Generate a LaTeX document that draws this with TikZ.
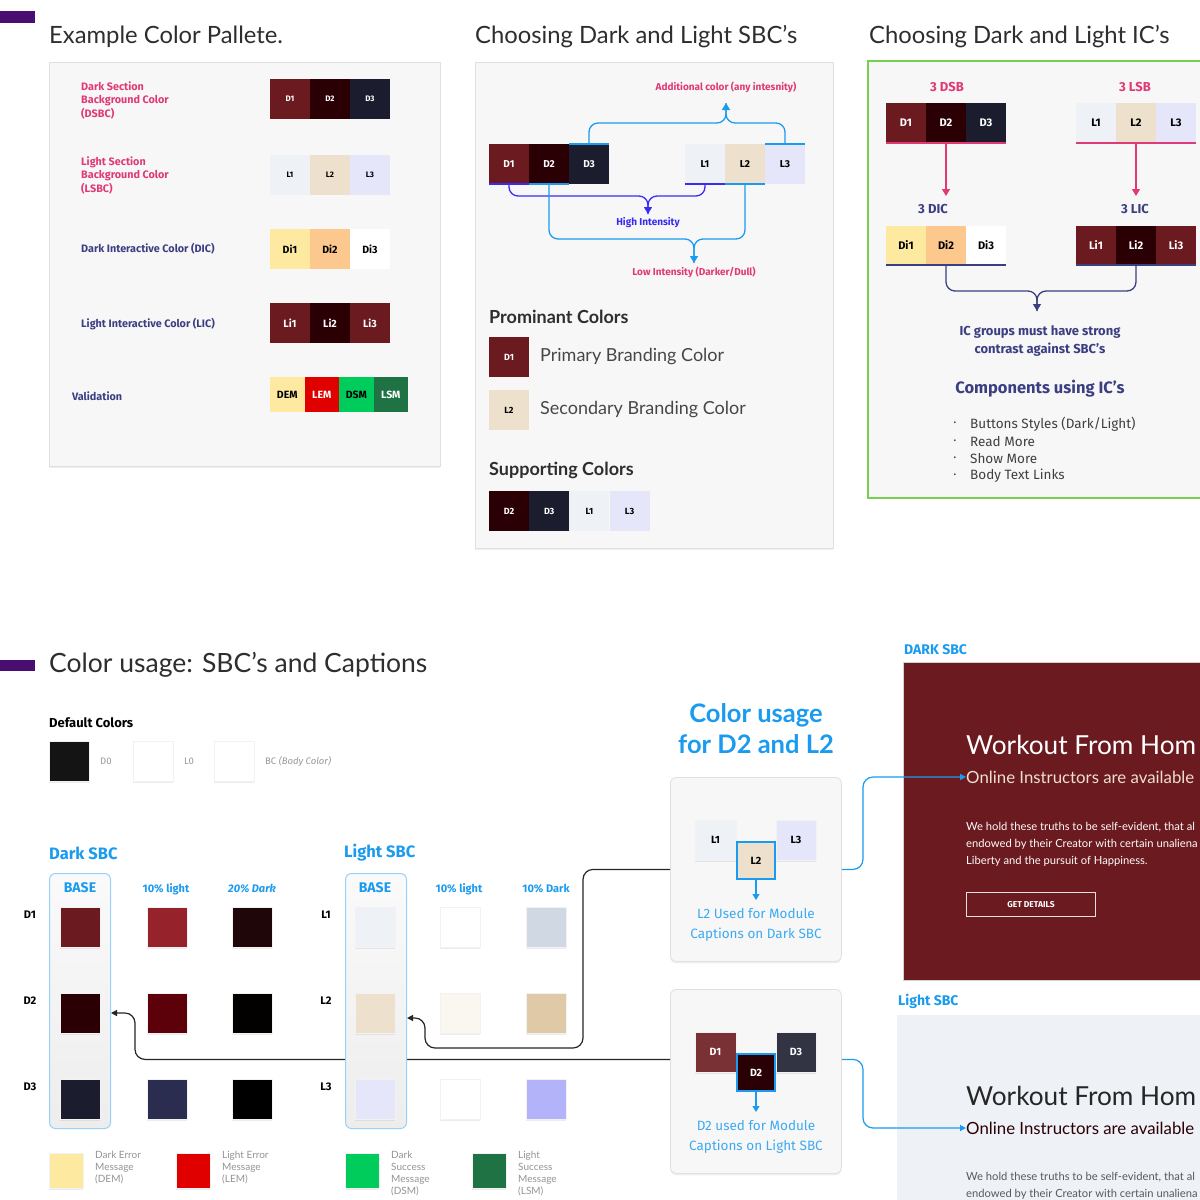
\documentclass[tikz,border=0pt]{standalone}
\usepackage{fontspec}
\setmainfont{Fira Sans}
\newfontfamily\headfont{Lato}
\usepackage{xcolor}
\usetikzlibrary{arrows.meta,positioning,shadows}

\definecolor{dOne}{HTML}{6B1A1F}
\definecolor{dTwo}{HTML}{2A0005}
\definecolor{dThree}{HTML}{1B1C2E}
\definecolor{dOneL}{HTML}{96222C}
\definecolor{dOneD}{HTML}{1F0608}
\definecolor{dTwoL}{HTML}{5C0009}
\definecolor{dTwoD}{HTML}{030000}
\definecolor{dThreeL}{HTML}{2A2D4F}
\definecolor{dThreeD}{HTML}{000000}
\definecolor{lOne}{HTML}{EEF1F6}
\definecolor{lTwo}{HTML}{EDE0CC}
\definecolor{lThree}{HTML}{E6E6FA}
\definecolor{lOneL}{HTML}{FFFFFF}
\definecolor{lOneD}{HTML}{CFD8E3}
\definecolor{lTwoL}{HTML}{FAF7F0}
\definecolor{lTwoD}{HTML}{E0C9A6}
\definecolor{lThreeL}{HTML}{FFFFFF}
\definecolor{lThreeD}{HTML}{B3B3FA}
\definecolor{diOne}{HTML}{FEE9A0}
\definecolor{diTwo}{HTML}{FDC88E}
\definecolor{lemc}{HTML}{E00000}
\definecolor{dsmc}{HTML}{00CC5C}
\definecolor{lsmc}{HTML}{1E7244}
\definecolor{pinkc}{HTML}{DF3A76}
\definecolor{navyc}{HTML}{3B3F82}
\definecolor{skyc}{HTML}{1A9BEF}
\definecolor{violetc}{HTML}{3A2BF0}
\definecolor{panelc}{HTML}{F8F7F7}
\definecolor{barc}{HTML}{4A0E72}
\definecolor{greenb}{HTML}{76CF4F}

\begin{document}
\begin{tikzpicture}[x=1pt, y=-1pt,
      sw/.style={anchor=north west, minimum width=40pt, minimum height=40pt, inner sep=0pt, outer sep=0pt, font=\bfseries\fontsize{9}{10}\selectfont},
      gsw/.style={minimum width=40pt, minimum height=40pt, inner sep=0pt, draw=black!5, line width=0.5pt, drop shadow={opacity=0.15, shadow xshift=0pt, shadow yshift=-1.5pt}},
      lab/.style={anchor=west, inner sep=0pt, align=left, font=\bfseries\fontsize{10.8}{13.5}\selectfont},
      txt/.style={inner sep=0pt, font=\bfseries\fontsize{10}{11}\selectfont},
      heading/.style={anchor=west, inner sep=0pt, text=black!82, font=\headfont\fontsize{23.8}{28}\selectfont},
      panel/.style={anchor=north west, fill=panelc, draw=black!12, line width=0.8pt, inner sep=0pt, drop shadow={opacity=0.12, shadow xshift=0pt, shadow yshift=-2pt}},
      capbox/.style={panel, rounded corners=6pt, minimum width=171pt, minimum height=184pt},
      basecol/.style={anchor=north west, rounded corners=6pt, draw=skyc!45, line width=1pt, top color=black!2, bottom color=black!7, minimum width=61pt, minimum height=255pt, inner sep=0pt},
      brace/.style={rounded corners=9pt, line width=1.3pt},
      arrowhd/.style={-{Triangle[length=7pt,width=8pt]}},
      link/.style={rounded corners=10pt, line width=1.2pt, -{Triangle[length=6pt,width=6pt]}},
    ]
      \useasboundingbox (0,0) rectangle (1200,1200);
      \clip (0,0) rectangle (1200,1200);
      \fill[white] (0,0) rectangle (1200,1200);

      \fill[barc] (0,11) rectangle (35,23);
      \node[heading] (palTitle) at (49,37) {Example Color Pallete.};
      \node[panel, minimum width=391pt, minimum height=404pt] (palPanel) at (49,62) {};
      \node[lab, text=pinkc] (dsbcLab) at (81,100) {Dark Section\\Background Color\\(DSBC)};
      \node[lab, text=pinkc] (lsbcLab) at (81,175) {Light Section\\Background Color\\(LSBC)};
      \node[lab, text=navyc] (dicLab) at (81,249) {Dark Interactive Color (DIC)};
      \node[lab, text=navyc] (licLab) at (81,324) {Light Interactive Color (LIC)};
      \node[lab, text=navyc] (valLab) at (72,396) {Validation};
      \foreach \c/\tc/\t [count=\i from 0] in {dOne/white/D1, dTwo/white/D2, dThree/white/D3}
        \node[sw, fill=\c, text=\tc, font=\bfseries\fontsize{8}{9}\selectfont] (pD\i) at (270+40*\i,79) {\t};
      \foreach \c/\tc/\t [count=\i from 0] in {lOne/black/L1, lTwo/black/L2, lThree/black/L3}
        \node[sw, fill=\c, text=\tc, font=\bfseries\fontsize{8}{9}\selectfont] (pL\i) at (270+40*\i,155) {\t};
      \foreach \c/\tc/\t [count=\i from 0] in {diOne/black/Di1, diTwo/black/Di2, white/black/Di3}
        \node[sw, fill=\c, text=\tc, font=\bfseries\fontsize{10.5}{11}\selectfont] (pDi\i) at (270+40*\i,229) {\t};
      \foreach \c/\tc/\t [count=\i from 0] in {dOne/white/Li1, dTwo/white/Li2, dOne/white/Li3}
        \node[sw, fill=\c, text=\tc, font=\bfseries\fontsize{10.5}{11}\selectfont] (pLi\i) at (270+40*\i,303) {\t};
      \foreach \c/\tc/\t [count=\i from 0] in {diOne/black/DEM, lemc/white/LEM, dsmc/black/DSM, lsmc/white/LSM}
        \node[sw, fill=\c, text=\tc, minimum width=34.5pt, minimum height=35pt, font=\bfseries\fontsize{10.5}{11}\selectfont] (pV\i) at (270+34.5*\i,377) {\t};

      \node[heading] (sbcTitle) at (475,37) {Choosing Dark and Light SBC’s};
      \node[panel, minimum width=358pt, minimum height=486pt] (sbcPanel) at (475,62) {};
      \foreach \c/\t [count=\i from 0] in {dOne/D1, dTwo/D2, dThree/D3}
        \node[sw, fill=\c, text=white, font=\bfseries\fontsize{10}{11}\selectfont] (qD\i) at (489+40*\i,144) {\t};
      \foreach \c/\t [count=\i from 0] in {lOne/L1, lTwo/L2, lThree/L3}
        \node[sw, fill=\c, text=black, font=\bfseries\fontsize{10}{11}\selectfont] (qL\i) at (685+40*\i,144) {\t};
      \draw[violetc, line width=2pt] (qD0.south west) -- (qD0.south east);
      \draw[skyc, line width=2pt] (qD1.south west) -- (qD1.south east);
      \draw[skyc, line width=2pt] (qD2.north west) -- (qD2.north east);
      \draw[violetc, line width=2pt] (qL0.south west) -- (qL0.south east);
      \draw[skyc, line width=2pt] (qL1.south west) -- (qL1.south east);
      \draw[skyc, line width=2pt] (qL2.north west) -- (qL2.north east);
      \coordinate (hiTip) at (648,214);
      \coordinate (loTip) at (694,263);
      \coordinate (adTip) at (726,103);
      \draw[brace, violetc] (qD0.south) |- (648,196) -- (hiTip);
      \draw[brace, violetc, arrowhd] (qL0.south) |- (648,196) -- (hiTip);
      \draw[brace, skyc] (qD1.south) |- (694,239) -- (loTip);
      \draw[brace, skyc, arrowhd] (qL1.south) |- (694,239) -- (loTip);
      \draw[brace, skyc] (qD2.north) |- (726,123) -- (adTip);
      \draw[brace, skyc, arrowhd] (qL2.north) |- (726,123) -- (adTip);
      \node[txt, text=pinkc] (adLab) at (726,87) {Additional color (any intesnity)};
      \node[txt, text=violetc] (hiLab) at (648,223) {High Intensity};
      \node[txt, text=pinkc] (loLab) at (694,272) {Low Intensity (Darker/Dull)};
      \node[anchor=west, inner sep=0pt, text=black!82, font=\headfont\bfseries\fontsize{18}{20}\selectfont] (promLab) at (489,317) {Prominant Colors};
      \node[sw, fill=dOne, text=white] (prD1) at (489,337) {D1};
      \node[inner sep=0pt, text=black!72, font=\headfont\fontsize{18}{20}\selectfont, right=11pt of prD1] (primLab) {Primary Branding Color};
      \node[sw, fill=lTwo, text=black] (prL2) at (489,390) {L2};
      \node[inner sep=0pt, text=black!72, font=\headfont\fontsize{18}{20}\selectfont, right=11pt of prL2] (secLab) {Secondary Branding Color};
      \node[anchor=west, inner sep=0pt, text=black!82, font=\headfont\bfseries\fontsize{18}{20}\selectfont] (suppLab) at (489,470) {Supporting Colors};
      \foreach \c/\tc/\t [count=\i from 0] in {dTwo/white/D2, dThree/white/D3, lOne/black/L1, lThree/black/L3}
        \node[sw, fill=\c, text=\tc] (supp\i) at (489+40.2*\i,491) {\t};

      \node[heading] (icTitle) at (869,37) {Choosing Dark and Light IC’s};
      \draw[greenb, line width=2.2pt, fill=panelc] (868,61) rectangle (1212,498);
      \node[txt, text=pinkc, font=\bfseries\fontsize{13}{14}\selectfont] (dsbHead) at (947,87) {3 DSB};
      \node[txt, text=pinkc, font=\bfseries\fontsize{13}{14}\selectfont] (lsbHead) at (1135,87) {3 LSB};
      \foreach \c/\t [count=\i from 0] in {dOne/D1, dTwo/D2, dThree/D3}
        \node[sw, fill=\c, text=white, font=\bfseries\fontsize{11}{12}\selectfont] (rD\i) at (886+40*\i,103) {\t};
      \foreach \c/\t [count=\i from 0] in {lOne/L1, lTwo/L2, lThree/L3}
        \node[sw, fill=\c, text=black, font=\bfseries\fontsize{11}{12}\selectfont] (rL\i) at (1076+40*\i,103) {\t};
      \draw[pinkc, line width=2.2pt] (rD0.south west) -- (rD2.south east);
      \draw[pinkc, line width=2.2pt] (rL0.south west) -- (rL2.south east);
      \draw[pinkc, line width=1.3pt, arrowhd] (rD1.south) -- ++(0,53);
      \draw[pinkc, line width=1.3pt, arrowhd] (rL1.south) -- ++(0,53);
      \node[txt, text=navyc, font=\bfseries\fontsize{13}{14}\selectfont] (dicHead) at (933,209) {3 DIC};
      \node[txt, text=navyc, font=\bfseries\fontsize{13}{14}\selectfont] (licHead) at (1135,209) {3 LIC};
      \foreach \c/\t [count=\i from 0] in {diOne/Di1, diTwo/Di2, white/Di3}
        \node[sw, fill=\c, text=black, minimum height=39pt, font=\bfseries\fontsize{11}{12}\selectfont] (iD\i) at (886+40*\i,226) {\t};
      \foreach \c/\t [count=\i from 0] in {dOne/Li1, dTwo/Li2, dOne/Li3}
        \node[sw, fill=\c, text=white, minimum height=39pt, font=\bfseries\fontsize{11}{12}\selectfont] (iL\i) at (1076+40*\i,226) {\t};
      \draw[navyc, line width=2.2pt] (iD0.south west) -- (iD2.south east);
      \draw[navyc, line width=2.2pt] (iL0.south west) -- (iL2.south east);
      \coordinate (icTip) at (1037,311);
      \draw[brace, navyc] (iD1.south) |- (1037,291) -- (icTip);
      \draw[brace, navyc, arrowhd] (iL1.south) |- (1037,291) -- (icTip);
      \node[txt, text=navyc, align=center, font=\bfseries\fontsize{13}{18}\selectfont] (icNote) at (1040,341) {IC groups must have strong\\contrast against SBC’s};
      \node[txt, text=navyc, font=\bfseries\fontsize{16.5}{18}\selectfont] (compLab) at (1040,389) {Components using IC’s};
      \foreach \t [count=\i from 0] in {Buttons Styles (Dark/Light), Read More, Show More, Body Text Links} {
        \node[inner sep=0pt, text=black!75, font=\fontsize{8}{9}\selectfont] (bul\i) at (955,424+17.2*\i) {\textbullet};
        \node[anchor=west, inner sep=0pt, text=black!75, font=\fontsize{13.5}{15}\selectfont] (item\i) at (970,424+17.2*\i) {\t};
      }

      \fill[barc] (0,660) rectangle (35,671);
      \node[heading, font=\headfont\fontsize{26.5}{30}\selectfont] (useTitle) at (49,665) {Color usage: SBC’s and Captions};
      \node[anchor=west, inner sep=0pt, font=\bfseries\fontsize{13}{14}\selectfont] (defLab) at (49,723) {Default Colors};
      \node[sw, gsw, anchor=north west, fill=black!92] (dfD0) at (49,741) {};
      \node[inner sep=0pt, text=black!40, font=\fontsize{9.5}{10}\selectfont, right=11pt of dfD0] (dfD0lab) {D0};
      \node[sw, gsw, anchor=north west, fill=white] (dfL0) at (133,741) {};
      \node[inner sep=0pt, text=black!40, font=\fontsize{9.5}{10}\selectfont, right=11pt of dfL0] (dfL0lab) {L0};
      \node[sw, gsw, anchor=north west, fill=white] (dfBC) at (214,741) {};
      \node[inner sep=0pt, text=black!40, font=\fontsize{9.5}{10}\selectfont, right=11pt of dfBC] (dfBClab) {BC \textit{(Body Color)}};

      \node[txt, text=skyc, align=center, font=\headfont\bfseries\fontsize{25.5}{31}\selectfont] (usageHead) at (756,729) {Color usage\\for D2 and L2};
      \node[capbox] (capA) at (670,777) {};
      \node[sw, gsw, anchor=north west, fill=lOne, minimum width=41pt, font=\bfseries\fontsize{10.5}{11}\selectfont] (cL1) at (695,820) {L1};
      \node[sw, gsw, anchor=north west, fill=lThree, font=\bfseries\fontsize{10.5}{11}\selectfont] (cL3) at (776,820) {L3};
      \node[sw, anchor=north west, fill=lTwo, draw=skyc, line width=2.5pt, minimum width=38pt, minimum height=37pt, font=\bfseries\fontsize{10.5}{11}\selectfont] (cL2) at (737,842) {L2};
      \draw[skyc, line width=1.2pt, -{Triangle[length=6pt,width=7pt]}] (cL2.south) -- ++(0,21);
      \node[inner sep=0pt, text=skyc!85, align=center, font=\fontsize{13.5}{20}\selectfont] (capAtxt) at (756,925) {L2 Used for Module\\Captions on Dark SBC};
      \node[capbox] (capB) at (670,989) {};
      \node[sw, gsw, anchor=north west, fill=dOne!90!white, text=white, minimum width=41pt, font=\bfseries\fontsize{10.5}{11}\selectfont] (cD1) at (695,1032) {D1};
      \node[sw, gsw, anchor=north west, fill=dThree!90!white, text=white, font=\bfseries\fontsize{10.5}{11}\selectfont] (cD3) at (776,1032) {D3};
      \node[sw, anchor=north west, fill=dTwo, text=white, draw=skyc, line width=2.5pt, minimum width=38pt, minimum height=37pt, font=\bfseries\fontsize{10.5}{11}\selectfont] (cD2) at (737,1054) {D2};
      \draw[skyc, line width=1.2pt, -{Triangle[length=6pt,width=7pt]}] (cD2.south) -- ++(0,21);
      \node[inner sep=0pt, text=skyc!85, align=center, font=\fontsize{13.5}{20}\selectfont] (capBtxt) at (756,1137) {D2 used for Module\\Captions on Light SBC};

      \node[anchor=west, inner sep=0pt, text=skyc, font=\bfseries\fontsize{14}{15}\selectfont] (darkHead) at (904,650) {DARK SBC};
      \draw[black!18, fill=dOne] (903,662) rectangle (1212,980);
      \node[anchor=west, inner sep=0pt, text=white, font=\headfont\fontsize{26.2}{30}\selectfont] (darkTitle) at (966,745) {Workout From Hom};
      \node[anchor=west, inner sep=0pt, text=lTwo, font=\headfont\fontsize{16.8}{18}\selectfont] (darkCap) at (966,777) {Online Instructors are available};
      \node[anchor=north west, inner sep=0pt, align=left, text=white!92!lTwo, font=\headfont\fontsize{11.2}{17}\selectfont] (darkBody) at (966,822) {We hold these truths to be self-evident, that al\\endowed by their Creator with certain unaliena\\Liberty and the pursuit of Happiness.};
      \node[anchor=north west, draw=white!85!dOne, line width=1pt, minimum width=129pt, minimum height=24pt, inner sep=0pt, text=white, font=\bfseries\fontsize{8.5}{9}\selectfont] (getBtn) at (966,892) {GET DETAILS};
      \node[anchor=west, inner sep=0pt, text=skyc, font=\bfseries\fontsize{14}{15}\selectfont] (lightHead) at (898,1001) {Light SBC};
      \fill[lOne] (897,1015) rectangle (1212,1212);
      \node[anchor=west, inner sep=0pt, text=black!85, font=\headfont\fontsize{26.2}{30}\selectfont] (lightTitle) at (966,1096) {Workout From Hom};
      \node[anchor=west, inner sep=0pt, text=dTwo, font=\headfont\fontsize{16.8}{18}\selectfont] (lightCap) at (966,1128) {Online Instructors are available};
      \node[anchor=north west, inner sep=0pt, align=left, text=black!65, font=\headfont\fontsize{11.2}{17}\selectfont] (lightBody) at (966,1172) {We hold these truths to be self-evident, that al\\endowed by their Creator with certain unaliena};

      \draw[link, skyc] (capA.east) -| (863,777) -- (darkCap.west);
      \draw[link, skyc] ([yshift=22pt]capB.east) -| (863,1128) -- (lightCap.west);

      \node[anchor=west, inner sep=0pt, text=skyc, font=\bfseries\fontsize{16.5}{18}\selectfont] (darkSbc) at (49,853) {Dark SBC};
      \node[basecol] (dBase) at (49,873) {};
      \draw[link, black!85] ([yshift=22pt]capB.west) -| (135,1013) -- (dBase.east |- 0,1013);
      \node[anchor=west, inner sep=0pt, text=skyc, font=\bfseries\fontsize{16.5}{18}\selectfont] (lightSbc) at (344,853) {Light SBC};
      \node[basecol] (lBase) at (345,873) {};
      \draw[link, black!85] (capA.west) -| (583,1048) -| (425,1018) -- (lBase.east |- 0,1018);

      \node[txt, text=skyc, font=\bfseries\fontsize{14}{15}\selectfont] (dBaseLab) at (80,888) {BASE};
      \node[txt, text=skyc, font=\bfseries\fontsize{11}{12}\selectfont] (dLightLab) at (166,889) {10\% light};
      \node[txt, text=skyc, font=\bfseries\itshape\fontsize{11}{12}\selectfont] (dDarkLab) at (252,889) {20\% Dark};
      \node[txt, text=skyc, font=\bfseries\fontsize{14}{15}\selectfont] (lBaseLab) at (375,888) {BASE};
      \node[txt, text=skyc, font=\bfseries\fontsize{11}{12}\selectfont] (lLightLab) at (459,889) {10\% light};
      \node[txt, text=skyc, font=\bfseries\fontsize{11}{12}\selectfont] (lDarkLab) at (546,889) {10\% Dark};
      \foreach \a/\b/\c/\t [count=\r from 0] in {dOne/dOneL/dOneD/D1, dTwo/dTwoL/dTwoD/D2, dThree/dThreeL/dThreeD/D3} {
        \node[txt, font=\bfseries\fontsize{11}{12}\selectfont] (dRow\r) at (30,915+86*\r) {\t};
        \node[gsw, fill=\a] (dgA\r) at (80,927+86*\r) {};
        \node[gsw, fill=\b] (dgB\r) at (167,927+86*\r) {};
        \node[gsw, fill=\c] (dgC\r) at (252,927+86*\r) {};
      }
      \foreach \a/\b/\c/\t [count=\r from 0] in {lOne/lOneL/lOneD/L1, lTwo/lTwoL/lTwoD/L2, lThree/lThreeL/lThreeD/L3} {
        \node[txt, font=\bfseries\fontsize{11}{12}\selectfont] (lRow\r) at (326,915+86*\r) {\t};
        \node[gsw, fill=\a] (lgA\r) at (375,927+86*\r) {};
        \node[gsw, fill=\b] (lgB\r) at (460,927+86*\r) {};
        \node[gsw, fill=\c] (lgC\r) at (546,927+86*\r) {};
      }

      \foreach \c/\x/\t [count=\i from 0] in {diOne/49/{Dark Error\\Message\\(DEM)}, lemc/176/{Light Error\\Message\\(LEM)}, dsmc/345/{Dark\\Success\\Message\\(DSM)}, lsmc/472/{Light\\Success\\Message\\(LSM)}} {
        \node[gsw, anchor=north west, fill=\c, minimum width=34pt, minimum height=35pt] (leg\i) at (\x,1153) {};
        \node[anchor=north west, inner sep=0pt, align=left, text=black!42, font=\headfont\fontsize{10}{12}\selectfont] (legLab\i) at (\x+46,1151) {\t};
      }
    \end{tikzpicture}
\end{document}
